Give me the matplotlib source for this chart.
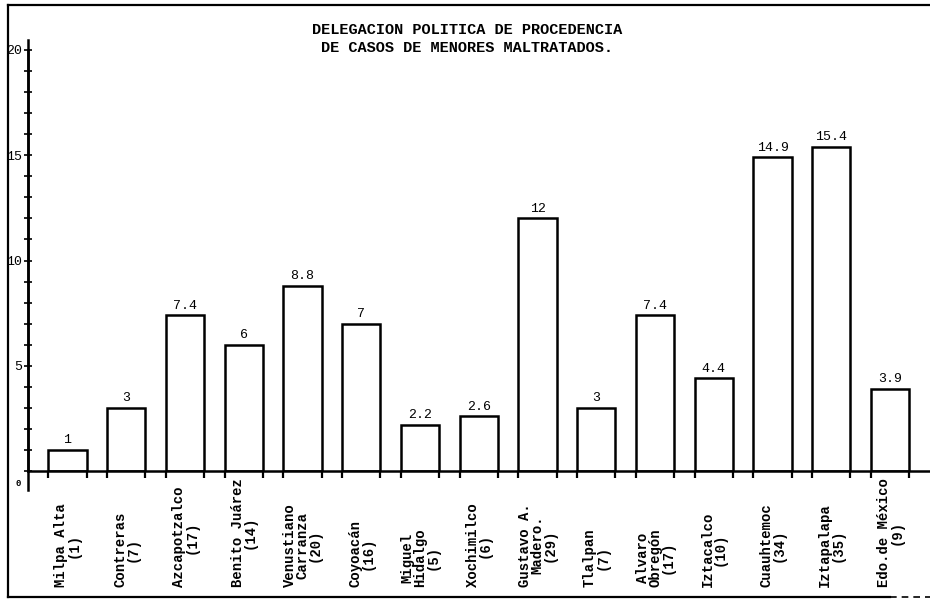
import matplotlib.pyplot as plt
import numpy as np
from matplotlib.lines import Line2D

# data
delegaciones = [
    "Milpa Alta\n(1)", "Contreras\n(7)", "Azcapotzalco\n(17)", "Benito Juárez\n(14)",
    "Venustiano\nCarranza\n(20)", "Coyoacán\n(16)", "Miguel\nHidalgo\n(5)", "Xochimilco\n(6)",
    "Gustavo A.\nMadero.\n(29)", "Tlalpan\n(7)", "Alvaro\nObregón\n(17)", "Iztacalco\n(10)",
    "Cuauhtemoc\n(34)", "Iztapalapa\n(35)", "Edo.de México\n(9)",
]
valores = [1, 3, 7.4, 6, 8.8, 7, 2.2, 2.6, 12, 3, 7.4, 4.4, 14.9, 15.4, 3.9]
etiquetas = ["1", "3", "7.4", "6", "8.8", "7", "2.2", "2.6", "12", "3", "7.4", "4.4", "14.9", "15.4", "3.9"]
yticks = [5, 10, 15, 20]

MONO = ["Liberation Mono", "DejaVu Sans Mono"]

W, H = 930, 601
fig = plt.figure(figsize=(W / 100, H / 100), dpi=100)

# axes placed in pixel terms: y-axis at x=28, baseline at y=471, value 20 at y=50
ax_left, ax_right = 28, 930
ax_bottom, ax_top = 471, 50
ax = fig.add_axes([ax_left / W, 1 - ax_bottom / H, (ax_right - ax_left) / W, (ax_bottom - ax_top) / H])

x = np.arange(len(valores))
width = 0.65
ax.bar(x, valores, width=width, facecolor="white", edgecolor="black", linewidth=1.8)

for xi, v, lab in zip(x, valores, etiquetas):
    ax.annotate(lab, (xi, v), xytext=(0, 2.5), textcoords="offset points",
                ha="center", va="bottom", fontsize=9.5, family=MONO)

ax.set_ylim(0, 20)
ax.set_xlim(-0.672, 14.68)
ax.set_yticks(yticks)
ax.set_yticklabels([str(t) for t in yticks], family=MONO, fontsize=9.5)
ax.set_yticks(np.arange(0, 21, 1), minor=True)
ax.tick_params(axis="y", which="both", direction="inout", length=6, width=1.2, pad=1)

# short marks below the baseline at bar edges
edges = np.concatenate([x - width / 2, x + width / 2])
ax.set_xticks(edges)
ax.set_xticklabels([])
ax.tick_params(axis="x", direction="out", length=5, width=1.6)

for side in ["top", "right"]:
    ax.spines[side].set_visible(False)
ax.spines["left"].set_linewidth(1.8)
ax.spines["bottom"].set_linewidth(1.8)

ax.text(-0.008, -0.018, "0", transform=ax.transAxes, ha="right", va="top", fontsize=6.5,
        family=MONO, fontweight="bold")

# category labels, rotated, starting near the bottom frame
label_y = -(587 - ax_bottom) / (ax_bottom - ax_top)
for xi, name in zip(x, delegaciones):
    ax.text(xi, label_y, name, rotation=90, ha="center", va="bottom", multialignment="center",
            fontsize=10, fontweight="bold", family=MONO, linespacing=0.85,
            transform=ax.get_xaxis_transform(), clip_on=False)

# extend the y-axis slightly past the ticks, as in the original
fig.add_artist(Line2D([ax_left / W, ax_left / W], [1 - 40 / H, 1 - 490 / H], color="black", lw=1.8))

# outer frame of the page (right edge is cut off in the scan)
fx0, fy_top, fy_bot = 8 / W, 1 - 5 / H, 1 - 597 / H
fig.add_artist(Line2D([fx0, 1], [fy_top, fy_top], color="black", lw=1.6))
fig.add_artist(Line2D([fx0, fx0], [fy_top, fy_bot], color="black", lw=1.6))
fig.add_artist(Line2D([fx0, 890 / W], [fy_bot, fy_bot], color="black", lw=1.6))
fig.add_artist(Line2D([890 / W, 1], [fy_bot, fy_bot], color="black", lw=1.2, ls=(0, (4, 3))))

fig.text(467 / W, 1 - 30 / H, "DELEGACION POLITICA DE PROCEDENCIA", ha="center", va="center",
         fontsize=11, family=MONO, fontweight="bold")
fig.text(467 / W, 1 - 48 / H, "DE CASOS DE MENORES MALTRATADOS.", ha="center", va="center",
         fontsize=11, family=MONO, fontweight="bold")

fig.savefig("out.png", dpi=100)
